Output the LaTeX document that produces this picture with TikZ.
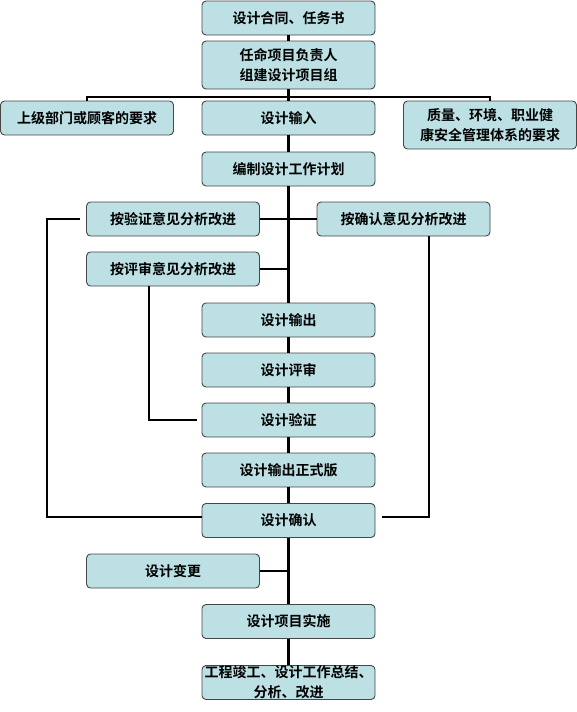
\documentclass[tikz,border=0pt]{standalone}
\usepackage{fontspec}
\newfontfamily\cjk{Noto Sans CJK SC}[BoldFont={Noto Sans CJK SC Bold}]
\definecolor{boxfill}{RGB}{188,224,227}
\definecolor{boxline}{RGB}{70,70,70}
\begin{document}
\begin{tikzpicture}[x=1pt,y=-1pt,
  stepbox/.style={draw=boxline,line width=0.9pt,fill=boxfill,rounded corners=4pt,
    minimum width=173pt,minimum height=34pt,inner sep=0pt,align=center,
    font=\cjk\bfseries\fontsize{14}{20}\selectfont},
  tallbox/.style={stepbox,minimum height=48pt},
  conn/.style={line width=2.7pt,black,line join=miter}]
\useasboundingbox (0,0) rectangle (577,712);
% nodes
\node[stepbox] (contract) at (288.5,18) {设计合同、任务书};
\node[tallbox] (lead) at (288.5,65) {任命项目负责人\\组建设计项目组};
\node[stepbox] (upper) at (87,118) {上级部门或顾客的要求};
\node[stepbox] (input) at (288.5,118) {设计输入};
\node[tallbox] (qual) at (490,125) {质量、环境、职业健\\康安全管理体系的要求};
\node[stepbox] (plan) at (288.5,169) {编制设计工作计划};
\node[stepbox] (gaiyz) at (173,219) {按验证意见分析改进};
\node[stepbox] (gaiqr) at (403.5,219) {按确认意见分析改进};
\node[stepbox] (gaips) at (173,269) {按评审意见分析改进};
\node[stepbox] (out) at (288.5,320) {设计输出};
\node[stepbox] (review) at (288.5,370) {设计评审};
\node[stepbox] (verify) at (288.5,420) {设计验证};
\node[stepbox] (final) at (288.5,470) {设计输出正式版};
\node[stepbox] (confirm) at (288.5,520.5) {设计确认};
\node[stepbox] (change) at (173,571) {设计变更};
\node[stepbox] (impl) at (288.5,621.5) {设计项目实施};
\node[minimum height=55pt,stepbox] (done) at (288.5,682.5) {工程竣工、设计工作总结、\\分析、改进};
% helper coordinates
\coordinate (bus) at (0,97);
\coordinate (L) at (47,0);
\coordinate (R) at (429,0);
\coordinate (P) at (149,0);
% connectors
\draw[conn] (contract.south) -- (lead.north);
\draw[conn] (lead.south) -- (input.north);
\draw[conn] (upper.north) -- (upper.north |- bus) -- (qual.north |- bus) -- (qual.north);
\draw[conn] (input.south) -- (plan.north);
\draw[conn] (plan.south) -- (out.north);
\draw[conn] (gaiyz.east) -- (gaiqr.west);
\draw[conn] (gaips.east) -- (gaips.east -| plan.south);
\draw[conn] (out.south) -- (review.north);
\draw[conn] (review.south) -- (verify.north);
\draw[conn] (verify.south) -- (final.north);
\draw[conn] (final.south) -- (confirm.north);
\draw[conn] (confirm.south) -- (impl.north);
\draw[conn] (change.east) -- (change.east -| impl.north);
\draw[conn] (impl.south) -- (done.north);
% feedback loops
\draw[conn] ([xshift=-6pt]gaiyz.west) -| ([yshift=3.5pt]L |- confirm.west) -- ([yshift=3.5pt]confirm.west);
\draw[conn] (gaiqr.south -| R) |- ([xshift=7pt,yshift=3.5pt]confirm.east);
\draw[conn] (gaips.south -| P) |- ([xshift=-5pt]verify.west);
\end{tikzpicture}
\end{document}
